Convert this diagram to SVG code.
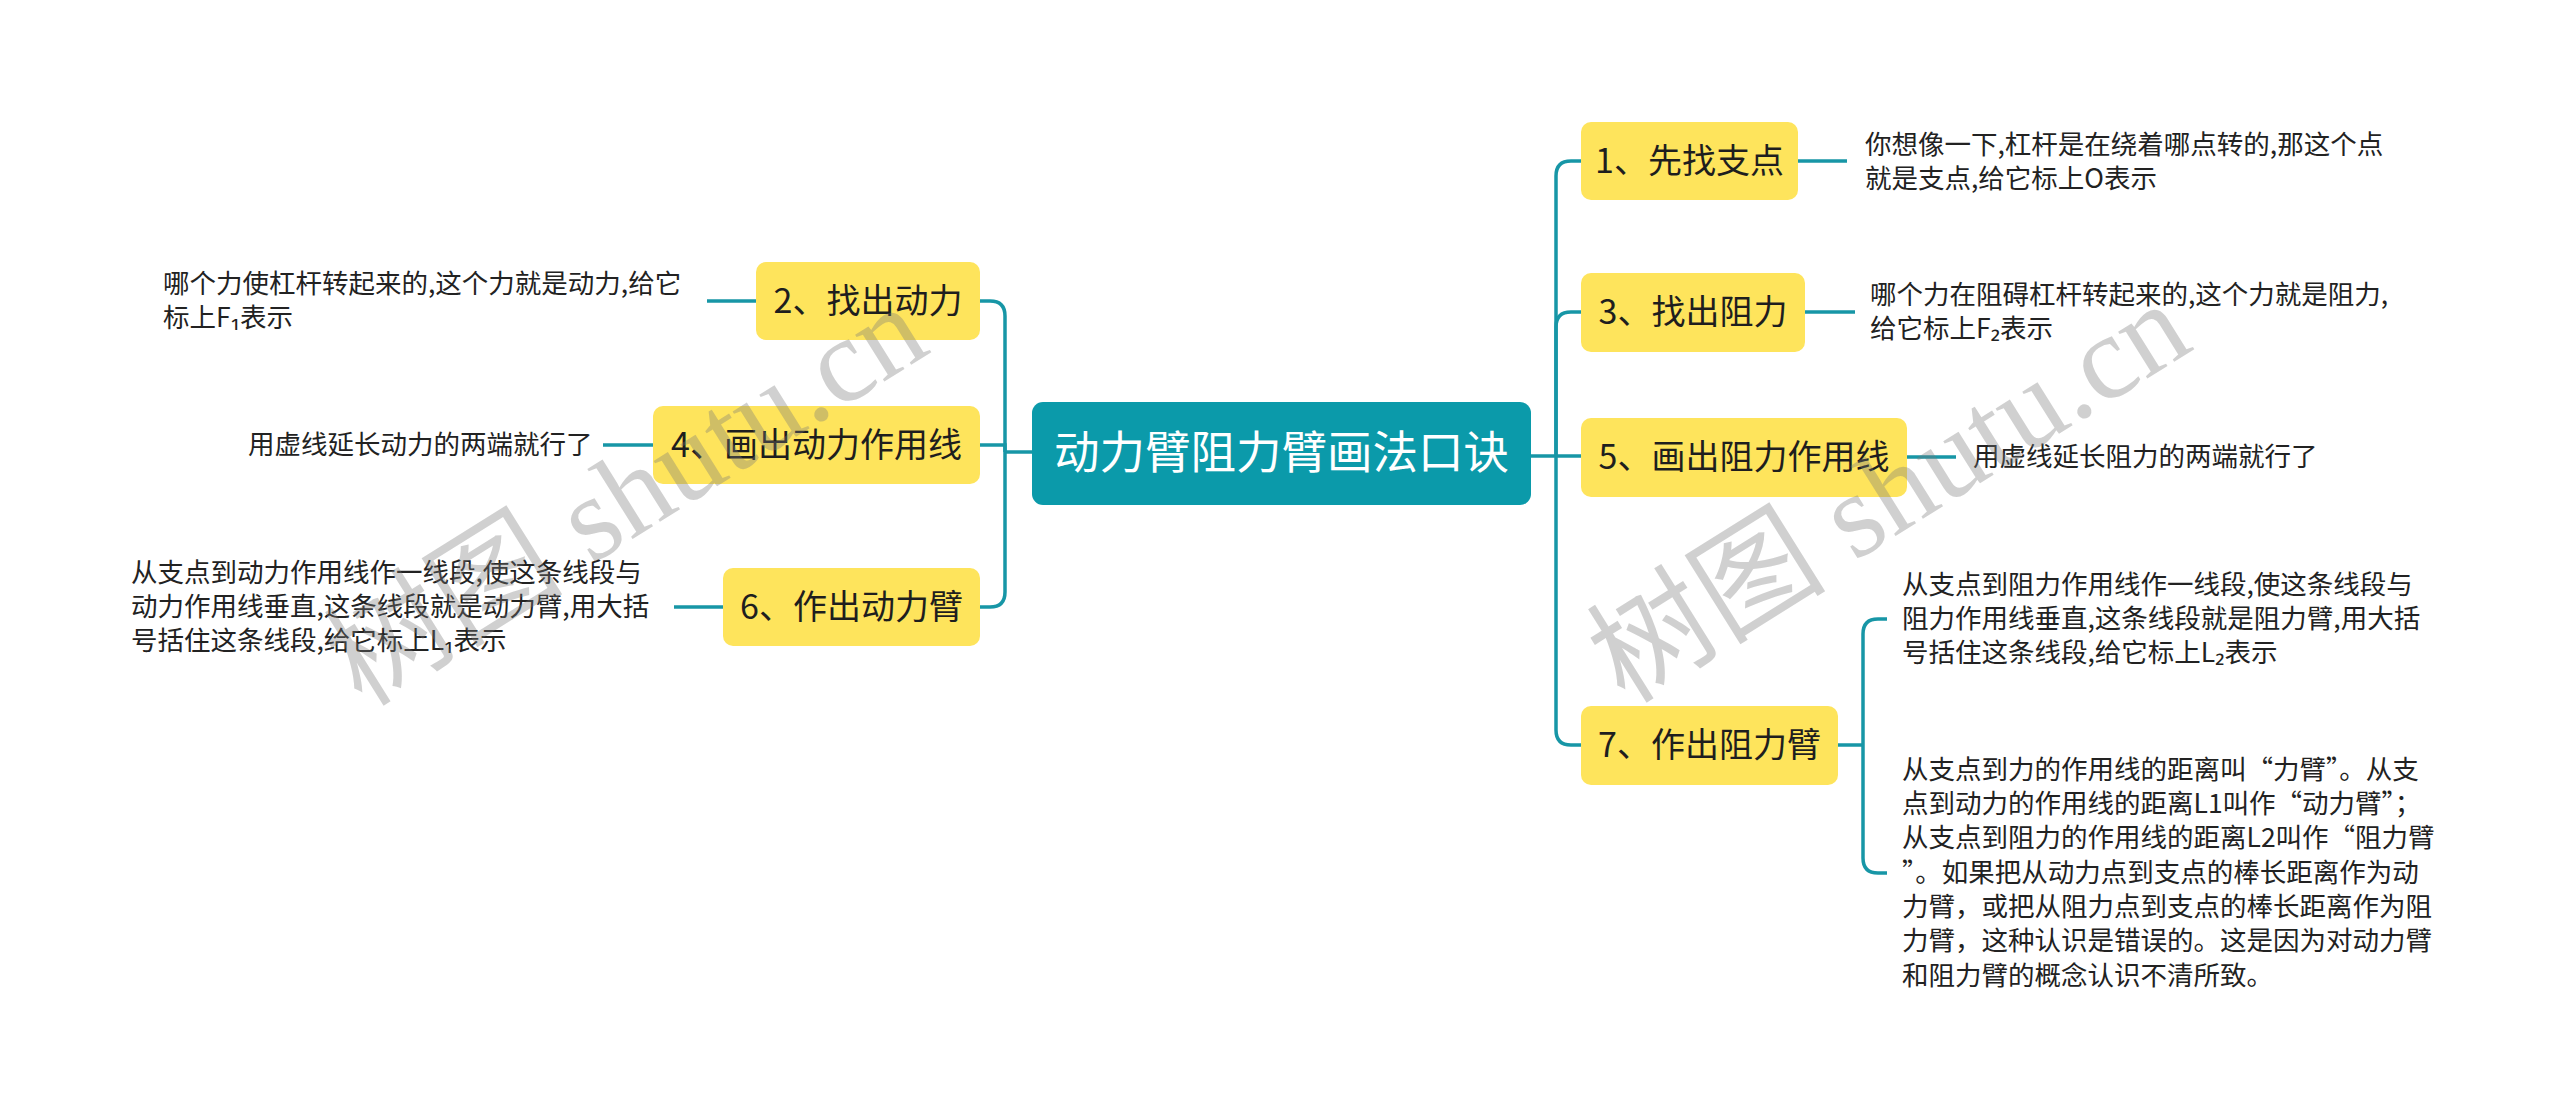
<svg xmlns="http://www.w3.org/2000/svg" width="2560" height="1120" viewBox="0 0 2560 1120">
<style>
.bg{fill:#ffffff}
.conn{fill:none;stroke:#1796a6;stroke-width:3.5;stroke-linecap:butt}
.root{fill:#0b9aaa}
.rootT{font-family:"Noto Sans CJK SC","Noto Sans",sans-serif;font-size:45.5px;fill:#ffffff;text-anchor:middle}
.sub{fill:#fee45c}
.subT{font-family:"Noto Sans CJK SC","Noto Sans",sans-serif;font-size:34px;fill:#1e1e1e;text-anchor:middle}
.desc{font-family:"Noto Sans CJK SC","Noto Sans",sans-serif;font-size:26.5px;fill:#222222}
.wm{font-family:"Liberation Serif","Noto Sans CJK SC",serif;font-size:120px;fill:#777777;fill-opacity:0.35}
</style>
<rect class="bg" x="0" y="0" width="2560" height="1120"/>

<g id="connectors">
  <path class="conn" d="M1032,452 H1005"/>
  <path class="conn" d="M1005,452 V316 Q1005,301 990,301 H980"/>
  <path class="conn" d="M1005,452 V445 H980"/>
  <path class="conn" d="M1005,452 V592 Q1005,607 990,607 H980"/>
  <path class="conn" d="M1531,456 H1581"/>
  <path class="conn" d="M1556,456 V176 Q1556,161 1571,161 H1581"/>
  <path class="conn" d="M1556,456 V327 Q1556,312 1571,312 H1581"/>
  <path class="conn" d="M1556,456 V730 Q1556,745 1571,745 H1581"/>
  <path class="conn" d="M1798,161 H1847"/>
  <path class="conn" d="M1805,312 H1855"/>
  <path class="conn" d="M1907,457 H1956"/>
  <path class="conn" d="M1838,745 H1863"/>
  <path class="conn" d="M1887,619 H1878 Q1863,619 1863,634 V858 Q1863,873 1878,873 H1887"/>
  <path class="conn" d="M707,301 H756"/>
  <path class="conn" d="M603,445 H653"/>
  <path class="conn" d="M674,607 H723"/>
</g>

<g id="root">
  <rect class="root" x="1032" y="402" width="499" height="103" rx="11"/>
  <text class="rootT" x="1281.5" y="469">动力臂阻力臂画法口诀</text>
</g>

<g id="n1">
  <rect class="sub" x="1581" y="122" width="217" height="78" rx="10"/>
  <text class="subT" x="1689.5" y="173">1、先找支点</text>
</g>
<g id="n3">
  <rect class="sub" x="1581" y="273" width="224" height="79" rx="10"/>
  <text class="subT" x="1693" y="324">3、找出阻力</text>
</g>
<g id="n5">
  <rect class="sub" x="1581" y="418" width="326" height="79" rx="10"/>
  <text class="subT" x="1744" y="469">5、画出阻力作用线</text>
</g>
<g id="n7">
  <rect class="sub" x="1581" y="706" width="257" height="79" rx="10"/>
  <text class="subT" x="1709.5" y="757">7、作出阻力臂</text>
</g>
<g id="n2">
  <rect class="sub" x="756" y="262" width="224" height="78" rx="10"/>
  <text class="subT" x="868" y="313">2、找出动力</text>
</g>
<g id="n4">
  <rect class="sub" x="653" y="406" width="327" height="78" rx="10"/>
  <text class="subT" x="816.5" y="457">4、画出动力作用线</text>
</g>
<g id="n6">
  <rect class="sub" x="723" y="568" width="257" height="78" rx="10"/>
  <text class="subT" x="851.5" y="619">6、作出动力臂</text>
</g>

<g id="d1">
  <text class="desc" x="1865" y="154">你想像一下,杠杆是在绕着哪点转的,那这个点</text>
  <text class="desc" x="1865" y="188">就是支点,给它标上O表示</text>
</g>
<g id="d3">
  <text class="desc" x="1870" y="304">哪个力在阻碍杠杆转起来的,这个力就是阻力,</text>
  <text class="desc" x="1870" y="338">给它标上F₂表示</text>
</g>
<g id="d5">
  <text class="desc" x="1973" y="466">用虚线延长阻力的两端就行了</text>
</g>
<g id="d7a">
  <text class="desc" x="1902" y="594">从支点到阻力作用线作一线段,使这条线段与</text>
  <text class="desc" x="1902" y="628">阻力作用线垂直,这条线段就是阻力臂,用大括</text>
  <text class="desc" x="1902" y="662">号括住这条线段,给它标上L₂表示</text>
</g>
<g id="d7b">
  <text class="desc" x="1902" y="779">从支点到力的作用线的距离叫“力臂”。从支</text>
  <text class="desc" x="1902" y="813">点到动力的作用线的距离L1叫作“动力臂”；</text>
  <text class="desc" x="1902" y="847">从支点到阻力的作用线的距离L2叫作“阻力臂</text>
  <text class="desc" x="1902" y="882">”。如果把从动力点到支点的棒长距离作为动</text>
  <text class="desc" x="1902" y="916">力臂，或把从阻力点到支点的棒长距离作为阻</text>
  <text class="desc" x="1902" y="950">力臂，这种认识是错误的。这是因为对动力臂</text>
  <text class="desc" x="1902" y="985">和阻力臂的概念认识不清所致。</text>
</g>
<g id="d2">
  <text class="desc" x="163" y="293">哪个力使杠杆转起来的,这个力就是动力,给它</text>
  <text class="desc" x="163" y="327">标上F₁表示</text>
</g>
<g id="d4">
  <text class="desc" x="248" y="454">用虚线延长动力的两端就行了</text>
</g>
<g id="d6">
  <text class="desc" x="131" y="582">从支点到动力作用线作一线段,使这条线段与</text>
  <text class="desc" x="131" y="616">动力作用线垂直,这条线段就是动力臂,用大括</text>
  <text class="desc" x="131" y="650">号括住这条线段,给它标上L₁表示</text>
</g>

<g id="watermarks">
  <text class="wm" x="362" y="708" transform="rotate(-32 362 708)">树图 shutu.cn</text>
  <text class="wm" x="1625" y="705" transform="rotate(-32 1625 705)">树图 shutu.cn</text>
</g>
</svg>
